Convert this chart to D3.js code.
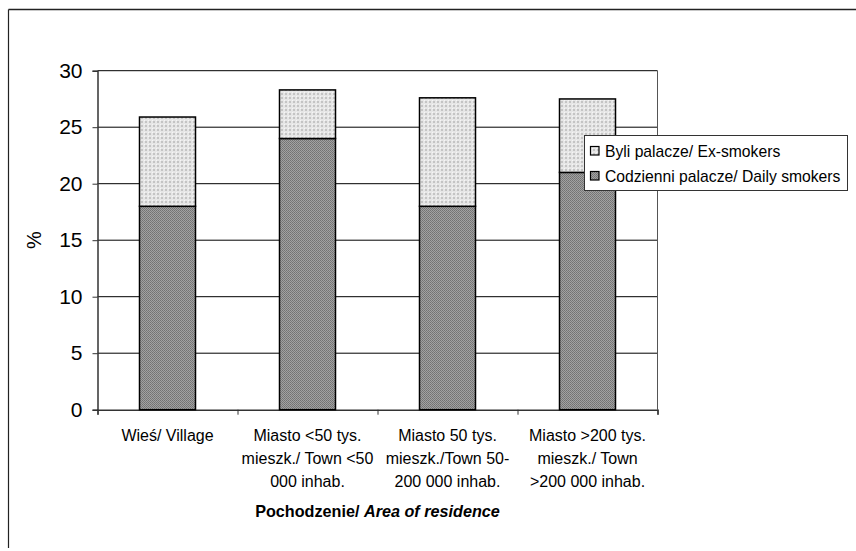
<!DOCTYPE html>
<html><head><meta charset="utf-8">
<script src="https://cdn.jsdelivr.net/npm/d3@7"></script>
<style>body{margin:0;background:#fff}svg{display:block;font-family:Arial,"Liberation Sans",sans-serif}</style>
</head><body>
<svg id="c" width="856" height="551"></svg>
<script>
const categories = [
  ["Wieś/ Village"],
  ["Miasto <50 tys.", "mieszk./ Town <50", "000 inhab."],
  ["Miasto 50 tys.", "mieszk./Town 50-", "200 000 inhab."],
  ["Miasto >200 tys.", "mieszk./ Town", ">200 000 inhab."]
];
const dailySmokers = [18, 24, 18, 21];
const exSmokers = [7.9, 4.3, 9.6, 6.5];
const seriesNames = ["Byli palacze/ Ex-smokers", "Codzienni palacze/ Daily smokers"];
const yTicks = [0, 5, 10, 15, 20, 25, 30];

const svg = d3.select("#c");
const defs = svg.append("defs");
const pl = defs.append("pattern").attr("id","pLight").attr("width",4).attr("height",4).attr("patternUnits","userSpaceOnUse");
pl.append("rect").attr("width",4).attr("height",4).attr("fill","#e6e6e6");
pl.append("rect").attr("x",1).attr("y",1).attr("width",2).attr("height",2).attr("fill","#c4c4c4");
pl.append("rect").attr("x",0).attr("y",0).attr("width",1).attr("height",1).attr("fill","#f6f6f6");
const pd = defs.append("pattern").attr("id","pDark").attr("width",2).attr("height",2).attr("patternUnits","userSpaceOnUse");
pd.append("rect").attr("width",2).attr("height",2).attr("fill","#a2a2a2");
pd.append("rect").attr("width",1).attr("height",1).attr("fill","#727272");
pd.append("rect").attr("x",1).attr("y",1).attr("width",1).attr("height",1).attr("fill","#7a7a7a");

svg.append("line").attr("x1",8.5).attr("x2",856).attr("y1",9.5).attr("y2",9.5).attr("stroke","#222").attr("stroke-width",1.5);
svg.append("line").attr("x1",8.5).attr("x2",8.5).attr("y1",9.5).attr("y2",548).attr("stroke","#222").attr("stroke-width",1.2);

const L = 97.5, R = 657.5, T = 70.7, B = 409.7;
const x = d3.scaleBand().domain(d3.range(categories.length)).range([L, R]).paddingInner(0.6).paddingOuter(0.3);
const y = d3.scaleLinear().domain([0, 30]).range([B, T]);

svg.append("g").selectAll("line").data(yTicks.filter(d => d > 0)).join("line")
  .attr("x1", L).attr("x2", R).attr("y1", d => y(d)).attr("y2", d => y(d))
  .attr("stroke", "#000").attr("stroke-width", 1);
svg.append("line").attr("x1",R).attr("x2",R).attr("y1",T).attr("y2",B).attr("stroke","#555").attr("stroke-width",1);

const yAxis = svg.append("g").attr("transform", `translate(${L},0)`)
  .call(d3.axisLeft(y).tickValues(yTicks).tickSize(5).tickPadding(10));
yAxis.select(".domain").attr("stroke","#333").attr("stroke-width",1.5);
yAxis.selectAll(".tick line").attr("stroke","#333");
yAxis.selectAll("text").attr("font-size", 21).attr("fill","#000").attr("font-family","Arial, 'Liberation Sans', sans-serif");

const xb = d3.scaleLinear().domain([0, categories.length]).range([L, R]);
const xAxis = svg.append("g").attr("transform", `translate(0,${B})`)
  .call(d3.axisBottom(xb).tickValues(d3.range(categories.length + 1)).tickSize(5).tickFormat(""));
xAxis.select(".domain").attr("stroke","#333").attr("stroke-width",1.5);
xAxis.selectAll(".tick line").attr("stroke","#333");

const gb = svg.append("g");
categories.forEach((c, i) => {
  const d0 = dailySmokers[i], d1 = d0 + exSmokers[i];
  gb.append("rect").attr("x", x(i)).attr("width", x.bandwidth())
    .attr("y", y(d0)).attr("height", y(0) - y(d0))
    .attr("fill", "url(#pDark)").attr("stroke", "#000").attr("stroke-width", 1.5);
  gb.append("rect").attr("x", x(i)).attr("width", x.bandwidth())
    .attr("y", y(d1)).attr("height", y(d0) - y(d1))
    .attr("fill", "url(#pLight)").attr("stroke", "#000").attr("stroke-width", 1.5);
});

const gl = svg.append("g").attr("font-size", 16).attr("text-anchor", "middle").attr("fill","#000");
categories.forEach((lines, i) => {
  const cx = x(i) + x.bandwidth() / 2;
  lines.forEach((t, j) => {
    gl.append("text").attr("x", cx).attr("y", 440.5 + j * 23.3).text(t);
  });
});

const tt = svg.append("text").attr("x", (L + R) / 2).attr("y", 517).attr("text-anchor","middle")
  .attr("font-size", 16.2).attr("font-weight","bold");
tt.append("tspan").text("Pochodzenie/ ");
tt.append("tspan").attr("font-style","italic").text("Area of residence");

svg.append("text").attr("transform", `translate(41,${(T + B) / 2}) rotate(-90)`)
  .attr("text-anchor","middle").attr("font-size", 20).text("%");

const lg = svg.append("g");
lg.append("rect").attr("x", 584.5).attr("y", 135.5).attr("width", 263).attr("height", 55)
  .attr("fill", "#fff").attr("stroke", "#333").attr("stroke-width", 1);
const fills = ["url(#pLight)", "url(#pDark)"];
seriesNames.forEach((n, k) => {
  const yy = 146.5 + k * 25;
  lg.append("rect").attr("x", 590.5).attr("y", yy).attr("width", 8.5).attr("height", 8.5)
    .attr("fill", fills[k]).attr("stroke", "#000").attr("stroke-width", 1.2);
  lg.append("text").attr("x", 605).attr("y", yy + 10).attr("font-size", 15.7).text(n);
});
</script>
</body></html>
